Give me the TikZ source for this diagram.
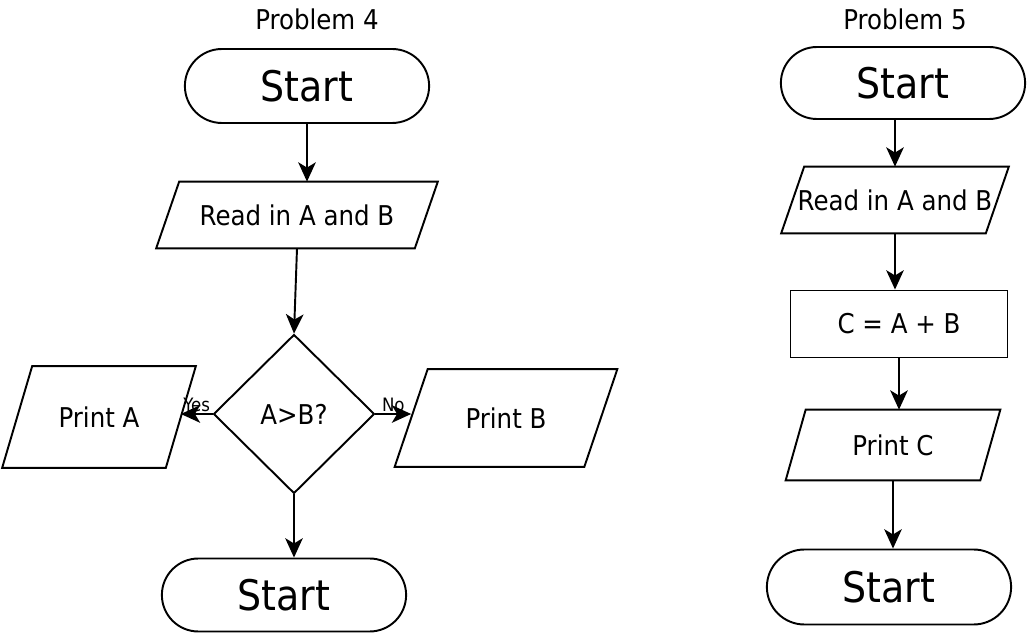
\documentclass[tikz,border=0pt]{standalone}
\usepackage{fontspec}
\setmainfont{DejaVu Sans Condensed}
\usetikzlibrary{shapes.geometric,shapes.misc,arrows.meta}

\begin{document}
\begin{tikzpicture}[x=0.02cm,y=-0.02cm,
      term/.style={rounded rectangle,draw,line width=1.1pt,minimum
      width=5.12cm,minimum height=1.48cm,font=\fontsize{24}{27}\selectfont},
      io/.style={rectangle,inner sep=0pt},
      arr/.style={line width=1.1pt,-{Stealth[length=11pt,width=10pt,inset=3pt]}}]
      \tikzstyle{every node}=[font=\fontsize{15.5}{18}\selectfont]
      \tikzstyle{small}=[font=\fontsize{10.5}{12}\selectfont,inner
      sep=1pt]
      \useasboundingbox (0,0) rectangle (1028,634);
      % Problem 4
      \node (T4) at (317,19) {Problem 4};
      \node[term] (S4) at (307,86) {Start};
      \node[io,minimum width=5.16cm,minimum height=1.32cm] (R4)
      at (297,215) {Read in A and B};
      \node[diamond,draw,line width=1.1pt,minimum width=3.22cm,minimum
      height=3.18cm,inner sep=0pt] (D4) at (294,414) {A>B?};
      \node[io,minimum width=3.26cm,minimum height=2.02cm] (PA)
      at (99,417) {Print A};
      \node[io,minimum width=3.78cm,minimum height=1.94cm] (PB)
      at (506,418) {Print B};
      \node[term,minimum height=1.46cm] (E4) at (284,595) {Start};
      \draw[arr] (S4.south) -- (S4.south |- R4.north);
      \draw[arr] (R4.south) -- (D4.north);
      \draw[arr] (D4.west) -- (D4.west -| PA.east)
      node[small,midway,above] {Yes};
      \draw[arr] (D4.east) -- (D4.east -| PB.west)
      node[small,midway,above] {No};
      \draw[arr] (D4.south) -- (D4.south |- E4.north);
      % Problem 5
      \node (T5) at (905,19) {Problem 5};
      \node[term,minimum height=1.44cm] (S5) at (903,83) {Start};
      \node[io,minimum width=4.08cm,minimum height=1.32cm] (R5)
      at (895,200) {Read in A and B};
      \node[draw,line width=1.1pt,minimum width=4.34cm,minimum
      height=1.34cm] (C5) at (899,324) {C = A + B};
      \node[io,minimum width=3.88cm,minimum height=1.40cm] (PC)
      at (893,445) {Print C};
      \node[term,minimum height=1.5cm] (E5) at (889,587) {Start};
      \draw[arr] (R5.north |- S5.south) -- (R5.north);
      \draw[arr] (R5.south) -- (R5.south |- C5.north);
      \draw[arr] (C5.south) -- (C5.south |- PC.north);
      \draw[arr] (PC.south) -- (PC.south |- E5.north);
      % slanted io boxes
      \foreach \n/\s in {R4/11.5,PA/15,PB/16.5,R5/11.5,PC/10}
      \draw[line width=1.1pt] ([xshift=\s*0.02cm]\n.north west) --
      ([xshift=\s*0.02cm]\n.north east) --
      ([xshift=-\s*0.02cm]\n.south east) --
      ([xshift=-\s*0.02cm]\n.south west) -- cycle;
    \end{tikzpicture}
\end{document}
